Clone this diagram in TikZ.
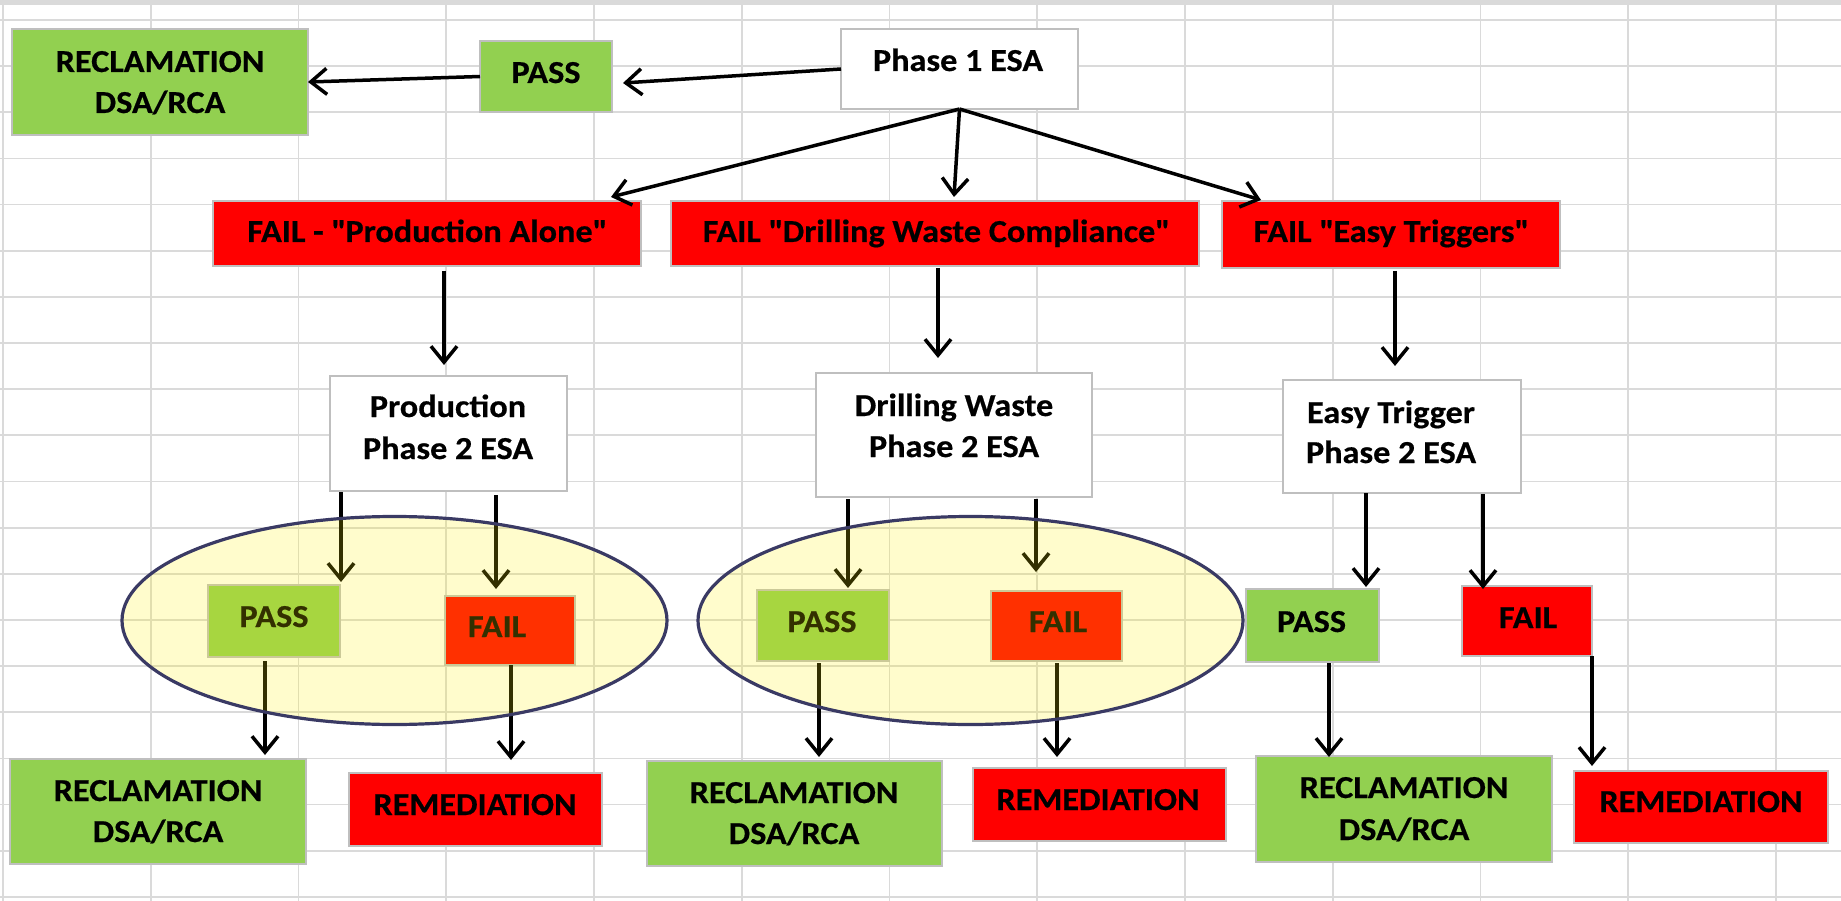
\documentclass[tikz,border=0pt]{standalone}
\usepackage{fontspec}
\setmainfont{Carlito}[BoldFeatures={FakeStretch=1.07,FakeBold=0.5}]
\usetikzlibrary{arrows.meta,calc}
\definecolor{grn}{HTML}{92D050}
\definecolor{rd}{HTML}{FF0000}
\definecolor{gridc}{HTML}{DADADA}
\definecolor{bord}{HTML}{BFBFBF}
\definecolor{ellc}{RGB}{58,58,100}
\newcommand\bx[6]{\node[#1,minimum width=#4pt,minimum height=#5pt] (#6) at (#2,#3) {};}
\newcommand\qq{\textquotedbl}
\begin{document}
\begin{tikzpicture}[x=1pt,y=-1pt,
  box/.style={draw=bord,line width=1.5pt,inner sep=0pt,outer sep=0pt},
  gbox/.style={box,fill=grn},
  rbox/.style={box,fill=rd},
  wbox/.style={box,fill=white},
  txt/.style={anchor=base,inner sep=0pt,font=\fontsize{32}{38}\selectfont\bfseries},
  gridline/.style={draw=gridc,line width=1.8pt},
  arr/.style={line width=3.5pt,-{Straight Barb[length=16pt,width=26pt,line width=3.5pt]}},
  zone/.style={draw=ellc,line width=3.2pt,fill=yellow,fill opacity=0.2}]
\useasboundingbox (0,0) rectangle (1841,901);
\fill[gridc] (0,0) rectangle (1841,5);
\foreach \i in {0,...,12} \draw[gridline] ({3+147.75*\i},5) -- ({3+147.75*\i},901);
\foreach \j in {0,...,19} \draw[gridline] (0,{20+46.15*\j}) -- (1841,{20+46.15*\j});

% boxes
\bx{gbox}{160}{82}{296}{106}{recTop}
\bx{gbox}{546}{76.5}{132}{71}{passTop}
\bx{wbox}{959.5}{69}{237}{80}{phase1}
\bx{rbox}{427}{233.5}{428}{65}{failProd}
\bx{rbox}{935}{233.5}{528}{65}{failDrill}
\bx{rbox}{1391}{234.5}{338}{67}{failEasy}
\bx{wbox}{448.5}{433.5}{237}{115}{ptwoProd}
\bx{wbox}{954}{435}{276}{124}{ptwoDrill}
\bx{wbox}{1402}{436.5}{238}{113}{ptwoEasy}
\bx{gbox}{274}{621}{132}{72}{passA}
\bx{rbox}{510}{630.5}{130}{69}{failA}
\bx{gbox}{823}{625.5}{132}{71}{passB}
\bx{rbox}{1056.5}{626}{131}{70}{failB}
\bx{gbox}{1312.5}{625.5}{133}{73}{passC}
\bx{rbox}{1527}{621}{130}{70}{failC}
\bx{gbox}{158}{811.5}{296}{105}{recA}
\bx{rbox}{475.5}{809.5}{253}{73}{remA}
\bx{gbox}{794.5}{813.5}{295}{105}{recB}
\bx{rbox}{1099.5}{804.5}{253}{73}{remB}
\bx{gbox}{1404}{809}{296}{106}{recC}
\bx{rbox}{1701}{807}{254}{72}{remC}

% texts
\node[txt] (t1) at (160,72) {RECLAMATION};
\node[txt] (t2) at (160,113) {DSA/RCA};
\node[txt] (t3) at (546,83) {PASS};
\node[txt] (t4) at (958,71) {Phase 1 ESA};
\node[txt] (t5) at (427,242) {FAIL - \qq Production Alone\qq};
\node[txt] (t6) at (936,242) {FAIL \qq Drilling Waste Compliance\qq};
\node[txt] (t7) at (1391,242) {FAIL \qq Easy Triggers\qq};
\node[txt] (t8) at (448,417) {Production};
\node[txt] (t9) at (448,459) {Phase 2 ESA};
\node[txt] (t10) at (954,416) {Drilling Waste};
\node[txt] (t11) at (954,457) {Phase 2 ESA};
\node[txt] (t12) at (1391,423) {Easy Trigger};
\node[txt] (t13) at (1391,463) {Phase 2 ESA};
\node[txt] (t14) at (274,627) {PASS};
\node[txt] (t15) at (497,637) {FAIL};
\node[txt] (t16) at (822,632) {PASS};
\node[txt] (t17) at (1058,632) {FAIL};
\node[txt] (t18) at (1311.5,632) {PASS};
\node[txt] (t19) at (1528,628) {FAIL};
\node[txt] (t20) at (158,801) {RECLAMATION};
\node[txt] (t21) at (158,842) {DSA/RCA};
\node[txt] (t22) at (475,815) {REMEDIATION};
\node[txt] (t23) at (794,803) {RECLAMATION};
\node[txt] (t24) at (794,844) {DSA/RCA};
\node[txt] (t25) at (1098,810) {REMEDIATION};
\node[txt] (t26) at (1404,798) {RECLAMATION};
\node[txt] (t27) at (1404,840) {DSA/RCA};
\node[txt] (t28) at (1701,812) {REMEDIATION};

% arrows
\draw[arr] (phase1.west) -- ($(passTop.east)+(11,6.5)$);
\draw[arr] (passTop.west) -- (recTop.east);
\draw[arr] (phase1.south) -- ($(failProd.north east)+(-30,-4)$);
\draw[arr] (phase1.south) -- ($(failDrill.north)+(19,-4)$);
\draw[arr] (phase1.south) -- ($(failEasy.north west)+(39,-1)$);
\draw[arr] ($(failProd.south)+(17,5)$) -- ($(ptwoProd.north)+(-4.5,-11)$);
\draw[arr] ($(failDrill.south)+(3,2)$) -- ($(ptwoDrill.north)+(-16,-15)$);
\draw[arr] ($(failEasy.south)+(4,3)$) -- ($(ptwoEasy.north)+(-7,-14)$);
\draw[arr] ($(ptwoProd.south)+(-107.5,1)$) -- ($(passA.north east)+(1,-3)$);
\draw[arr] ($(ptwoProd.south)+(47.5,4)$) -- ($(failA.north)+(-14,-7)$);
\draw[arr] ($(passA.south)+(-9,4)$) -- ($(recA.north)+(107,-4)$);
\draw[arr] ($(failA.south)+(1,0)$) -- ($(remA.north)+(35.5,-13)$);
\draw[arr] ($(ptwoDrill.south)+(-106,2)$) -- ($(passB.north)+(25,-2)$);
\draw[arr] ($(ptwoDrill.south)+(82,2)$) -- ($(failB.north)+(-20.5,-19)$);
\draw[arr] ($(passB.south)+(-4,2)$) -- ($(recB.north)+(24.5,-4)$);
\draw[arr] ($(failB.south)+(0.5,2)$) -- ($(remB.north)+(-42.5,-11)$);
\draw[arr] ($(ptwoEasy.south)+(-36,0)$) -- ($(passC.north)+(53.5,-2)$);
\draw[arr] ($(ptwoEasy.south)+(81,1)$) -- ($(failC.north)+(-44,3)$);
\draw[arr] ($(passC.south)+(16.5,1)$) -- ($(recC.north)+(-75,1)$);
\draw[arr] (failC.south east) -- ($(remC.north)+(-109,-5)$);

% highlight zones
\draw[zone] (394.5,620.5) ellipse [x radius=272.5, y radius=104];
\draw[zone] (970.5,620.5) ellipse [x radius=272.5, y radius=104];
\end{tikzpicture}
\end{document}
